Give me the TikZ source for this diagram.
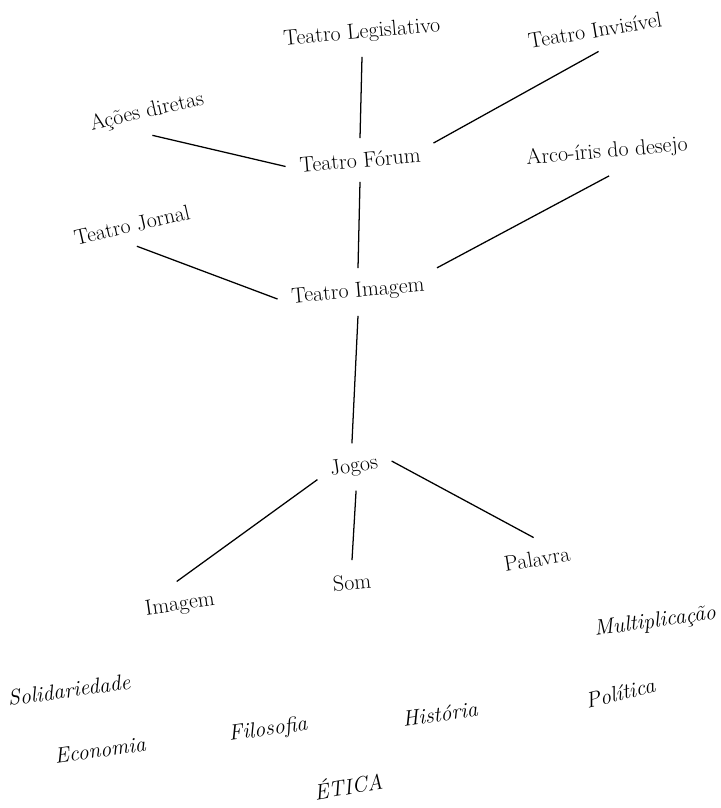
\documentclass[tikz,border=0pt]{standalone}
\usepackage{tikz}

\begin{document}
\begin{tikzpicture}[
  x=0.025cm, y=-0.025cm,
  term/.style={font=\fontsize{15.5}{18}\selectfont, rotate=5, inner sep=1pt, outer sep=9pt},
  theme/.style={font=\fontsize{15.5}{18}\selectfont\itshape, rotate=8, inner sep=1pt},
  link/.style={line width=0.9pt}
]
\useasboundingbox (0,0) rectangle (721,808);

% Forms of the theatre
\node[term] (tl) at (362,33) {Teatro Legislativo};
\node[term, rotate=4.5] (ti) at (595,30) {Teatro Invisível};
\node[term, rotate=8] (ad) at (147,112) {Ações diretas};
\node[term] (tf) at (360,160) {Teatro Fórum};
\node[term] (ar) at (607,152) {Arco-íris do desejo};
\node[term, rotate=8] (tj) at (132,225) {Teatro Jornal};
\node[term] (tm) at (358,292) {Teatro Imagem};

% Games
\node[term, rotate=4] (jg) at (354,467) {Jogos};
\node[term, rotate=3] (im) at (180,605) {Imagem};
\node[term] (sm) at (352,582) {Som};
\node[term, rotate=4] (pl) at (537,559) {Palavra};

% Connections
\draw[link] (tl.265) -- (tf.85);
\draw[link] (ti.south) -- (tf.8);
\draw[link] (ad.south) -- (tf.west);
\draw[link] (tf.265) -- (tm.85);
\draw[link] (ar.south) -- (tm.12);
\draw[link] (tj.south) -- (tm.west);
\draw[link] (tm.265) -- (jg.86);
\draw[link] (jg.190) -- (im.north);
\draw[link] (jg.266) -- (sm.85);
\draw[link] (jg.east) -- (pl.north);

% Themes at the base
\node[theme] (mu) at (655,622) {Multiplicação};
\node[theme] (so) at (69,690) {Solidariedade};
\node[theme, rotate=6] (po) at (620,693) {Política};
\node[theme] (hi) at (440,714) {História};
\node[theme] (fi) at (268,730) {Filosofia};
\node[theme] (ec) at (100,750) {Economia};
\node[theme, rotate=2] (et) at (348,785) {ÉTICA};

\end{tikzpicture}
\end{document}
